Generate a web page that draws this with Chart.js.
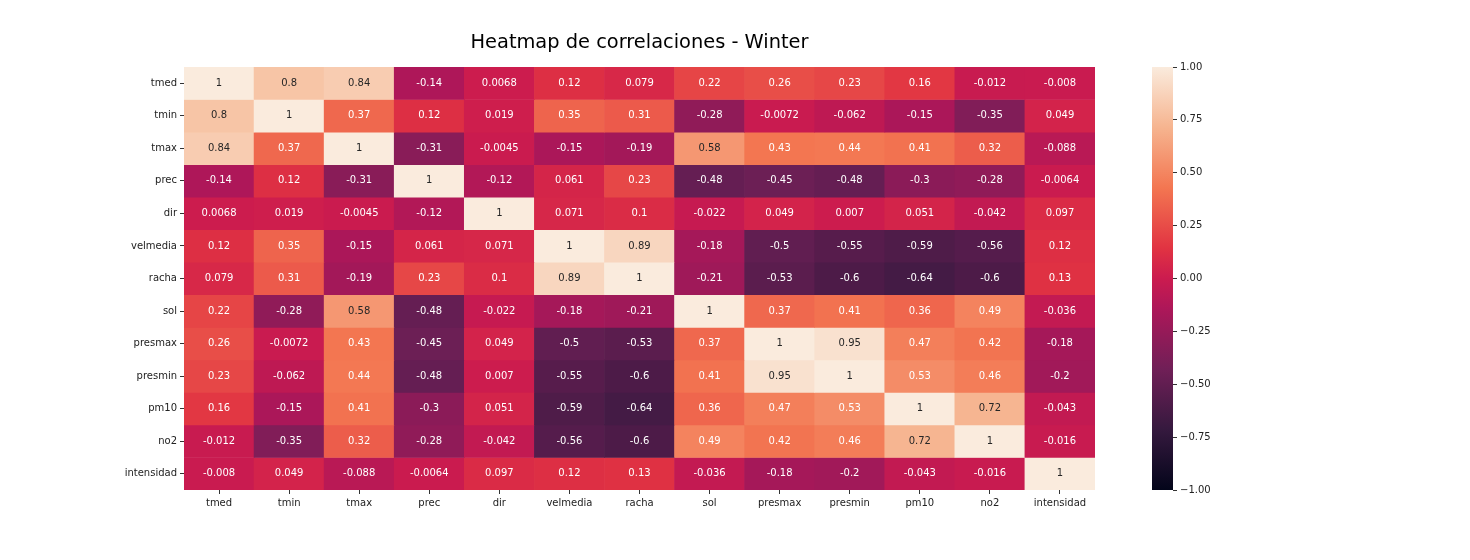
<!DOCTYPE html>
<html>
<head>
<meta charset="utf-8">
<script src="https://cdn.jsdelivr.net/npm/chart.js@4/dist/chart.umd.min.js"></script>
<style>
  body { margin: 0; background: #fff; }
  #wrap { position: relative; width: 1470px; height: 560px; }
  #heat { position: absolute; left: 0; top: 0; }
  #cbar { position: absolute; left: 1140px; top: 0; }
</style>
</head>
<body>
<div id="wrap">
  <canvas id="heat" width="1120" height="560"></canvas>
  <canvas id="cbar" width="100" height="560"></canvas>
</div>
<script>
const labels = ['tmed', 'tmin', 'tmax', 'prec', 'dir', 'velmedia', 'racha', 'sol', 'presmax', 'presmin', 'pm10', 'no2', 'intensidad']

const corr = [
    [1, 0.8, 0.84, -0.14, 0.0068, 0.12, 0.079, 0.22, 0.26, 0.23, 0.16, -0.012, -0.008],
    [0.8, 1, 0.37, 0.12, 0.019, 0.35, 0.31, -0.28, -0.0072, -0.062, -0.15, -0.35, 0.049],
    [0.84, 0.37, 1, -0.31, -0.0045, -0.15, -0.19, 0.58, 0.43, 0.44, 0.41, 0.32, -0.088],
    [-0.14, 0.12, -0.31, 1, -0.12, 0.061, 0.23, -0.48, -0.45, -0.48, -0.3, -0.28, -0.0064],
    [0.0068, 0.019, -0.0045, -0.12, 1, 0.071, 0.1, -0.022, 0.049, 0.007, 0.051, -0.042, 0.097],
    [0.12, 0.35, -0.15, 0.061, 0.071, 1, 0.89, -0.18, -0.5, -0.55, -0.59, -0.56, 0.12],
    [0.079, 0.31, -0.19, 0.23, 0.1, 0.89, 1, -0.21, -0.53, -0.6, -0.64, -0.6, 0.13],
    [0.22, -0.28, 0.58, -0.48, -0.022, -0.18, -0.21, 1, 0.37, 0.41, 0.36, 0.49, -0.036],
    [0.26, -0.0072, 0.43, -0.45, 0.049, -0.5, -0.53, 0.37, 1, 0.95, 0.47, 0.42, -0.18],
    [0.23, -0.062, 0.44, -0.48, 0.007, -0.55, -0.6, 0.41, 0.95, 1, 0.53, 0.46, -0.2],
    [0.16, -0.15, 0.41, -0.3, 0.051, -0.59, -0.64, 0.36, 0.47, 0.53, 1, 0.72, -0.043],
    [-0.012, -0.35, 0.32, -0.28, -0.042, -0.56, -0.6, 0.49, 0.42, 0.46, 0.72, 1, -0.016],
    [-0.008, 0.049, -0.088, -0.0064, 0.097, 0.12, 0.13, -0.036, -0.18, -0.2, -0.043, -0.016, 1]
]

const cbarTicks = [-1, -0.75, -0.5, -0.25, 0, 0.25, 0.5, 0.75, 1]

// rocket colormap, sampled
const rocketPos = [0, 1 / 7, 2 / 7, 3 / 7, 0.5, 4 / 7, 5 / 7, 6 / 7, 1]
const rocketHex = ['#03051a', '#35193e', '#701f57', '#ad1759', '#cb1b4f', '#e13342', '#f37651', '#f6b48f', '#faebdd']
const FONT = 'DejaVu Sans'

function hexToRgb(h) {
    return [1, 3, 5].map(i => parseInt(h.slice(i, i + 2), 16))
}

function rocket(v) {
    let t = (v + 1) / 2
    t = Math.max(0, Math.min(1, t))
    let k = 0
    while (k < rocketPos.length - 2 && t > rocketPos[k + 1]) k++
    const a = hexToRgb(rocketHex[k]), b = hexToRgb(rocketHex[k + 1])
    const f = (t - rocketPos[k]) / (rocketPos[k + 1] - rocketPos[k])
    return a.map((c, i) => Math.round(c + (b[i] - c) * f))
}

function luminance(rgb) {
    const l = rgb.map(c => {
        c = c / 255
        return c <= 0.03928 ? c / 12.92 : Math.pow((c + 0.055) / 1.055, 2.4)
    })
    return 0.2126 * l[0] + 0.7152 * l[1] + 0.0722 * l[2]
}

const rgbStr = c => 'rgb(' + c.join(',') + ')'

const annotate = {
    id: 'annotate',
    afterDatasetsDraw(chart) {
        const ctx = chart.ctx
        ctx.save()
        ctx.font = '10px "' + FONT + '"'
        ctx.textAlign = 'center'
        ctx.textBaseline = 'middle'
        chart.data.datasets.forEach((ds, i) => {
            chart.getDatasetMeta(i).data.forEach((bar, j) => {
                const v = corr[i][j]
                const { x, y, base } = bar.getProps(['x', 'y', 'base'], true)
                ctx.fillStyle = luminance(rocket(v)) > 0.408 ? '#262626' : '#ffffff'
                ctx.fillText(String(Number(v.toPrecision(2))), x, (y + base) / 2)
            })
        })
        ctx.restore()
    }
}

new Chart(document.getElementById('heat'), {
    type: 'bar',
    data: {
        labels: labels,
        datasets: corr.map((row, i) => ({
            label: labels[i],
            data: row.map(() => [i, i + 1]),
            backgroundColor: row.map(v => rgbStr(rocket(v))),
            borderWidth: 0,
            grouped: false,
            barPercentage: 1,
            categoryPercentage: 1
        }))
    },
    options: {
        responsive: false,
        animation: false,
        layout: { padding: { left: 0, right: 25, top: 0, bottom: 0 } },
        plugins: {
            legend: { display: false },
            tooltip: { enabled: false },
            title: {
                display: true,
                fullSize: false,
                text: 'Heatmap de correlaciones - Winter',
                color: '#000',
                font: { family: FONT, size: 19.4, weight: 'normal' },
                padding: { top: 31, bottom: 12.7 }
            }
        },
        scales: {
            x: {
                border: { display: false },
                grid: { offset: false, drawOnChartArea: false, drawTicks: true, tickLength: 4, tickColor: '#333' },
                ticks: { color: '#222', font: { family: FONT, size: 10 }, padding: 3, maxRotation: 0, autoSkip: false },
                afterFit(scale) { scale.height = 70 }
            },
            y: {
                type: 'linear',
                min: 0,
                max: 13,
                reverse: true,
                border: { display: false },
                grid: { drawOnChartArea: false, drawTicks: true, tickLength: 4, tickColor: '#333' },
                ticks: {
                    color: '#222',
                    font: { family: FONT, size: 10 },
                    padding: 3,
                    callback: (v, idx) => labels[idx]
                },
                afterBuildTicks(scale) { scale.ticks = labels.map((_, i) => ({ value: i + 0.5 })) },
                afterFit(scale) { scale.width = 184 }
            }
        }
    },
    plugins: [annotate]
})

new Chart(document.getElementById('cbar'), {
    type: 'bar',
    data: {
        labels: [''],
        datasets: [{
            data: [[-1, 1]],
            borderWidth: 0,
            barPercentage: 1,
            categoryPercentage: 1,
            backgroundColor(context) {
                const chart = context.chart
                const ys = chart.scales.y
                if (!chart.chartArea || !ys) return '#c81b4f'
                const g = chart.ctx.createLinearGradient(0, ys.getPixelForValue(-1), 0, ys.getPixelForValue(1))
                rocketPos.forEach((p, i) => g.addColorStop(p, rocketHex[i]))
                return g
            }
        }]
    },
    options: {
        responsive: false,
        animation: false,
        layout: { padding: { left: 12, right: 0, top: 67, bottom: 70 } },
        plugins: { legend: { display: false }, tooltip: { enabled: false } },
        scales: {
            x: { display: false },
            y: {
                position: 'right',
                min: -1,
                max: 1,
                border: { display: false },
                grid: { drawOnChartArea: false, drawTicks: true, tickLength: 4, tickColor: '#333' },
                ticks: {
                    color: '#222',
                    font: { family: FONT, size: 10 },
                    padding: 3,
                    callback: v => (v < 0 ? '\u2212' : '') + Math.abs(v).toFixed(2)
                },
                afterBuildTicks(scale) { scale.ticks = cbarTicks.map(v => ({ value: v })) },
                afterFit(scale) { scale.width = 67 }
            }
        }
    }
})
</script>
</body>
</html>
